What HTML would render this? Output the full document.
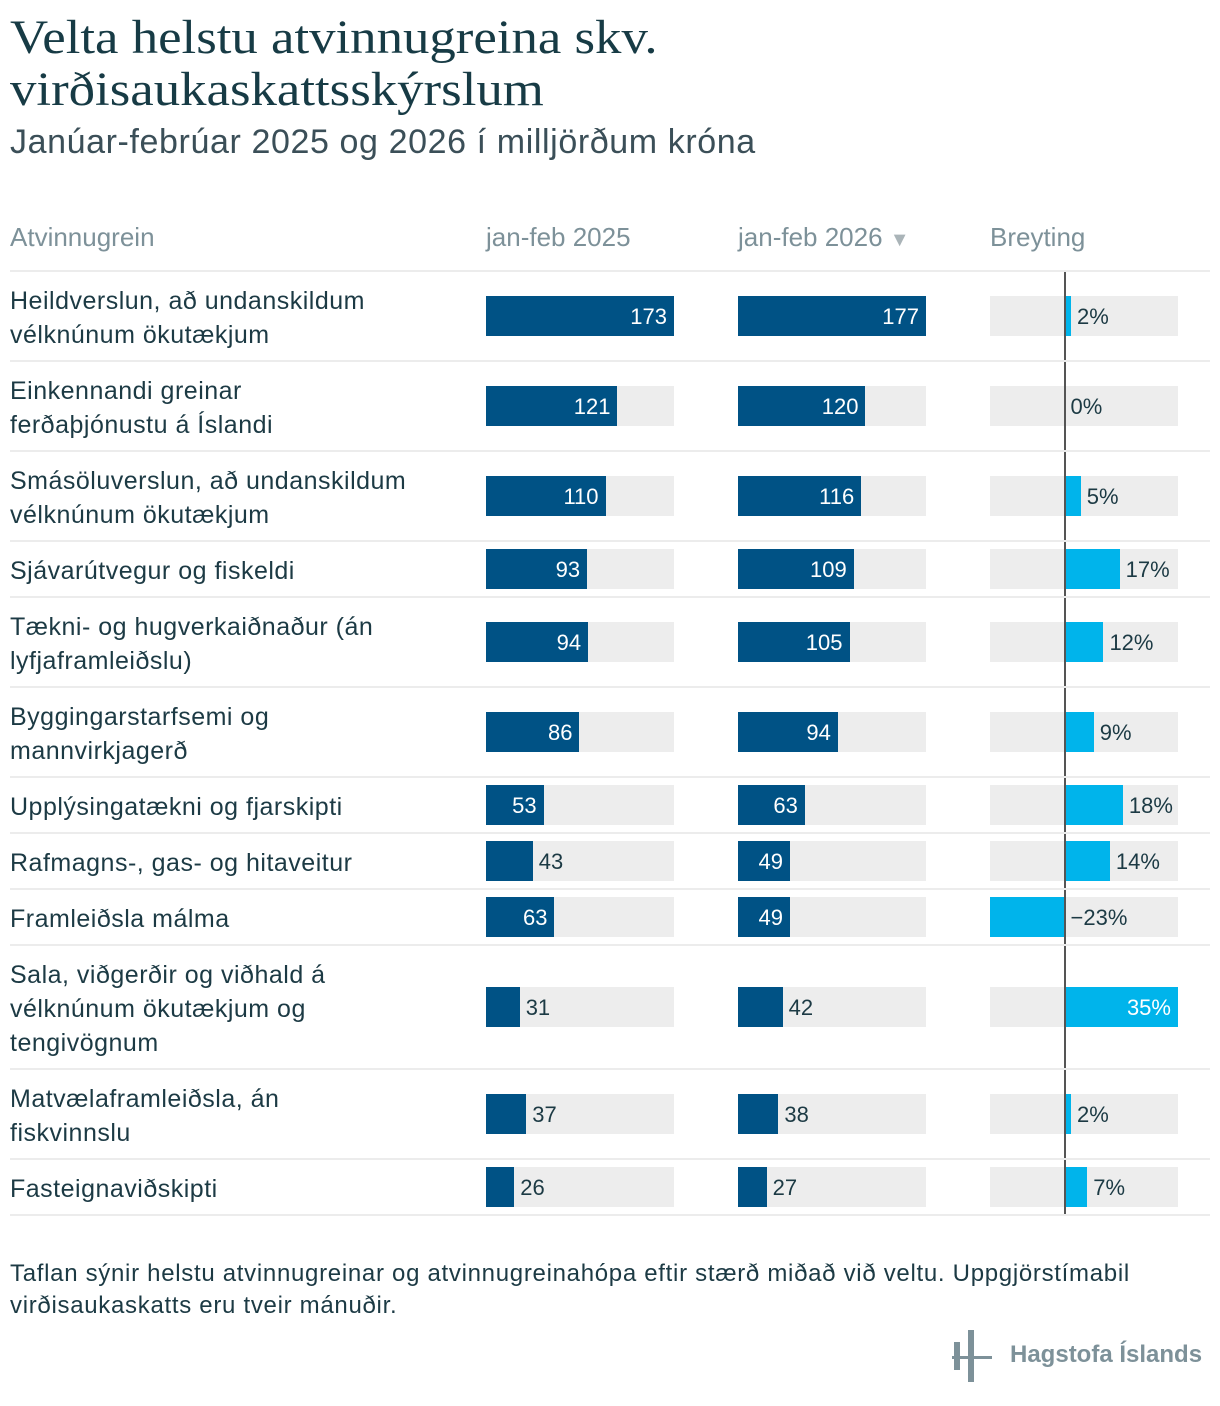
<!DOCTYPE html>
<html><head><meta charset="utf-8">
<style>
body{margin:0;width:1220px;height:1406px;background:#fff;position:relative;overflow:hidden;font-family:"Liberation Sans",sans-serif;color:#1c3a44}
.a{position:absolute;white-space:nowrap}
#title{left:10px;top:12px;font-family:"Liberation Serif",serif;font-size:48px;line-height:52px;color:#173b45;transform:scaleX(1.1);transform-origin:0 0}
#sub{left:10px;top:123px;font-size:34px;color:#3b4f58;letter-spacing:0.6px}
.hd{top:222px;font-size:26px;color:#7d9199}
.lbl{font-size:25px;line-height:34px;color:#1c3a44;left:10px;letter-spacing:0.5px}
.val{font-size:22px;line-height:42px}
</style></head><body>
<div class="a" id="title">Velta helstu atvinnugreina skv.<br>virðisaukaskattsskýrslum</div>
<div class="a" id="sub">Janúar-febrúar 2025 og 2026 í milljörðum króna</div>
<div class="a hd" style="left:10px">Atvinnugrein</div>
<div class="a hd" style="left:486px">jan-feb 2025</div>
<div class="a hd" style="left:738px">jan-feb 2026 <span style="color:#aab4b8;font-size:20px">▼</span></div>
<div class="a hd" style="left:990px">Breyting</div>
<div id="rows"></div>
<div class="a" style="left:10px;top:1258px;font-size:24px;letter-spacing:0.7px;line-height:32px;color:#1c3a44;white-space:normal;width:1180px">Taflan sýnir helstu atvinnugreinar og atvinnugreinahópa eftir stærð miðað við veltu. Uppgjörstímabil virðisaukaskatts eru tveir mánuðir.</div>
<div class="a" style="left:952px;top:1330px;width:40px;height:52px">
<div class="a" style="left:2px;top:12px;width:6px;height:28px;background:#7d9199"></div>
<div class="a" style="left:16px;top:0;width:6px;height:52px;background:#7d9199"></div>
<div class="a" style="left:0;top:26px;width:40px;height:3px;background:#7d9199"></div>
</div>
<div class="a" style="left:1010px;top:1341px;font-size:24px;color:#7d9199;font-weight:bold">Hagstofa Íslands</div>
<script>
const categories=["Heildverslun, að undanskildum<br>vélknúnum ökutækjum","Einkennandi greinar<br>ferðaþjónustu á Íslandi","Smásöluverslun, að undanskildum<br>vélknúnum ökutækjum","Sjávarútvegur og fiskeldi","Tækni- og hugverkaiðnaður (án<br>lyfjaframleiðslu)","Byggingarstarfsemi og<br>mannvirkjagerð","Upplýsingatækni og fjarskipti","Rafmagns-, gas- og hitaveitur","Framleiðsla málma","Sala, viðgerðir og viðhald á<br>vélknúnum ökutækjum og<br>tengivögnum","Matvælaframleiðsla, án<br>fiskvinnslu","Fasteignaviðskipti"];
const values2025=[173,121,110,93,94,86,53,43,63,31,37,26];
const values2026=[177,120,116,109,105,94,63,49,49,42,38,27];
const changePct=[2,0,5,17,12,9,18,14,-23,35,2,7];
const root=document.getElementById('rows');
function div(css,parent){const d=document.createElement('div');d.className='a';d.style.cssText=css;(parent||root).appendChild(d);return d;}
const max25=Math.max(...values2025),max26=Math.max(...values2026);
const cmin=Math.min(...changePct),cmax=Math.max(...changePct);
const W=188;
const xc=p=>990+(p-cmin)/(cmax-cmin)*W;
let y=270;
div('left:10px;top:270px;width:1200px;height:2px;background:#ececec');
categories.forEach((c,i)=>{
  const lines=c.split('<br>').length;
  const h=lines===1?56:lines===2?90:124;
  const mid=y+h/2+1;
  const l=div(`top:${mid-lines*17+2}px`);l.className='a lbl';l.innerHTML=c;
  
  
  [[486,values2025[i],max25],[738,values2026[i],max26]].forEach(([x0,v,m],k)=>{
    const bg=div(`left:${x0}px;top:${mid-20}px;width:${W}px;height:40px;background:#ededed`);
    
    
    const w=v/m*W;
    const b=div(`left:${x0}px;top:${mid-20}px;width:${w}px;height:40px;background:#005285`);
    
    
    const t=div(w>52?`left:${x0}px;width:${w-7}px;text-align:right;color:#fff;top:${mid-20}px`:`left:${x0+w+6}px;color:#1c3a44;top:${mid-20}px`);
    t.className+=' val';t.textContent=v;
    
    
  });
  const p=changePct[i];
  const bg=div(`left:990px;top:${mid-20}px;width:${W}px;height:40px;background:#ededed`);
  
  
  const x0=xc(0),x1=xc(p);
  const cb=div(`left:${Math.min(x0,x1)}px;top:${mid-20}px;width:${Math.abs(x1-x0)}px;height:40px;background:#00b4eb`);
  
  
  const txt=(p<0?'−'+(-p):p)+'%';
  const inside=p>=30;
  const ct=div(inside?`left:${x0}px;width:${x1-x0-7}px;text-align:right;color:#fff;top:${mid-20}px`:`left:${Math.max(x0,x1)+6}px;color:#1c3a44;top:${mid-20}px`);
  ct.className+=' val';ct.textContent=txt;
  
  
  const zl=div(`left:${x0-1}px;top:${y+2}px;width:2px;height:${h-2}px;background:#555`);
  
  
  y+=h;
  const sep=div(`left:10px;top:${y}px;width:1200px;height:2px;background:#ececec`);
  
  
});
</script>
</body></html>
